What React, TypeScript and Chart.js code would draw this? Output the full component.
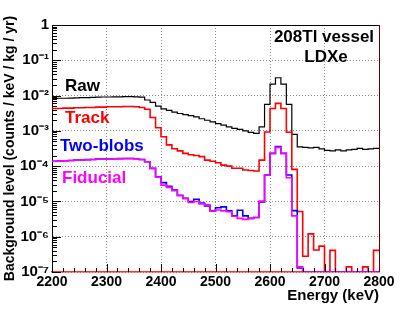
import { useEffect, useRef } from "react";
import { Chart, registerables } from "chart.js";

Chart.register(...registerables);

// ---------- data ----------
const BIN_WIDTH = 10; // keV
const ENERGY_BINS = [
  2200, 2210, 2220, 2230, 2240, 2250, 2260, 2270, 2280, 2290,
  2300, 2310, 2320, 2330, 2340, 2350, 2360, 2370, 2380, 2390,
  2400, 2410, 2420, 2430, 2440, 2450, 2460, 2470, 2480, 2490,
  2500, 2510, 2520, 2530, 2540, 2550, 2560, 2570, 2580, 2590,
  2600, 2610, 2620, 2630, 2640, 2650, 2660, 2670, 2680, 2690,
  2700, 2710, 2720, 2730, 2740, 2750, 2760, 2770, 2780, 2790,
];

const RAW = [
  0.0083, 0.0084, 0.0084, 0.0085, 0.0086, 0.0087, 0.0088, 0.0089, 0.009, 0.0091,
  0.0091, 0.0092, 0.0092, 0.0093, 0.0093, 0.0092, 0.009, 0.0075, 0.0064, 0.005,
  0.0042, 0.0038, 0.0034, 0.0031, 0.0029, 0.0027, 0.0025, 0.0022, 0.002, 0.0018,
  0.0016, 0.00146, 0.0013, 0.00117, 0.0011, 0.001, 0.00091, 0.00085, 0.0013, 0.0056,
  0.021, 0.032, 0.021, 0.0056, 0.00079, 0.00035, 0.00034, 0.00033, 0.00034, 0.00031,
  0.00028, 0.00027, 0.00029, 0.00027, 0.00029, 0.0003, 0.00032, 0.0003, 0.00031, 0.00032,
];

const TRACK = [
  0.0043, 0.0043, 0.0044, 0.0044, 0.0045, 0.0045, 0.0046, 0.0046, 0.0047, 0.0047,
  0.0048, 0.0048, 0.0048, 0.0049, 0.0049, 0.0048, 0.0046, 0.0041, 0.0024, 0.00123,
  0.00068, 0.0004, 0.00031, 0.00027, 0.00023, 0.00021, 0.0002, 0.000186, 0.000148, 0.000138,
  0.000125, 0.000107, 0.0001, 0.000087, 0.000087, 0.000078, 0.000075, 0.000073, 0.000148, 0.00093,
  0.0043, 0.006, 0.0043, 0.00091, 0.000081, 0.0000052, 2.8e-7, 1.2e-6, 4.2e-7, 5.4e-7,
  1e-7, 4.1e-7, 1e-7, 1e-7, 1.4e-7, 1e-7, 1e-7, 1.4e-7, 1e-7, 4.1e-7,
];

const TWO_BLOBS = [
  1.38e-4, 1.4e-4, 1.42e-4, 1.45e-4, 1.48e-4, 1.5e-4, 1.53e-4, 1.55e-4, 1.58e-4, 1.6e-4,
  1.6e-4, 1.62e-4, 1.63e-4, 1.64e-4, 1.64e-4, 1.62e-4, 1.55e-4, 1.33e-4, 8.7e-5, 5.0e-5,
  3.4e-5, 2.7e-5, 2.1e-5, 1.5e-5, 1.23e-5, 1.0e-5, 1.15e-5, 9.0e-6, 7.4e-6, 5.4e-6,
  6.6e-6, 7.0e-6, 5.4e-6, 3.9e-6, 5.6e-6, 3.9e-6, 3.3e-6, 3.5e-6, 9.7e-6, 5.6e-5,
  2.3e-4, 3.6e-4, 2.3e-4, 5.6e-5, 5.5e-6, 1.3e-7, 1e-7, 1e-7, 1e-7, 1e-7,
  1e-7, 1e-7, 1e-7, 1e-7, 1e-7, 1e-7, 1e-7, 1e-7, 1e-7, 1e-7,
];

const FIDUCIAL = [
  1.37e-4, 1.39e-4, 1.41e-4, 1.44e-4, 1.47e-4, 1.49e-4, 1.52e-4, 1.54e-4, 1.57e-4, 1.59e-4,
  1.59e-4, 1.61e-4, 1.62e-4, 1.63e-4, 1.63e-4, 1.61e-4, 1.54e-4, 1.33e-4, 8.5e-5, 4.9e-5,
  2.9e-5, 2.5e-5, 2.0e-5, 1.45e-5, 1.2e-5, 9.3e-6, 1.0e-5, 8.5e-6, 8.0e-6, 5.3e-6,
  5.7e-6, 5.4e-6, 5.1e-6, 3.8e-6, 3.3e-6, 3.1e-6, 3.3e-6, 3.5e-6, 1.02e-5, 5.6e-5,
  2.3e-4, 3.4e-4, 2.3e-4, 4.7e-5, 3.9e-6, 1.4e-7, 1e-7, 1e-7, 1e-7, 1e-7,
  1e-7, 1e-7, 1e-7, 1e-7, 1e-7, 1e-7, 1e-7, 1e-7, 1e-7, 1e-7,
];

const SERIES_NAMES = ["Raw", "Track", "Two-blobs", "Fiducial"];
const SERIES_COLORS = ["#000000", "#ff0000", "#0000ff", "#ff00ff"];

const X_TICKS = [2200, 2300, 2400, 2500, 2600, 2700, 2800];
const X_TICK_LABELS = ["2200", "2300", "2400", "2500", "2600", "2700", "2800"];
const Y_TICK_VALUES = [1e-7, 1e-6, 1e-5, 1e-4, 1e-3, 1e-2, 1e-1, 1];
const Y_TICK_LABELS = ["10⁻⁷", "10⁻⁶", "10⁻⁵", "10⁻⁴", "10⁻³", "10⁻²", "10⁻¹", "1"];

const TITLE_LINES = ["208Tl vessel", "LDXe"];
const X_TITLE = "Energy (keV)";
const Y_TITLE = "Background level (counts / keV / kg / yr)";

// ---------- helpers ----------
const FONT = '"Liberation Sans", Arial, Helvetica, sans-serif';

function toSteps(values: number[]) {
  const pts: { x: number; y: number }[] = [];
  ENERGY_BINS.forEach((lo, i) => {
    const hi = lo + BIN_WIDTH;
    pts.push({ x: lo, y: values[i] }, { x: hi, y: values[i] });
  });
  return pts;
}

const rootFrame = {
  id: "rootFrame",
  afterDatasetsDraw(chart: any) {
    const { ctx, chartArea: a, scales } = chart;
    const x = scales.x;
    const y = scales.y;
    ctx.save();
    ctx.strokeStyle = "#000";
    ctx.lineWidth = 1;
    ctx.beginPath();
    const xmin = X_TICKS[0];
    const xmax = X_TICKS[X_TICKS.length - 1];
    for (let v = xmin; v <= xmax; v += 20) {
      const px = Math.round(x.getPixelForValue(v)) + 0.5;
      const len = (v - xmin) % 100 === 0 ? 8 : 4;
      ctx.moveTo(px, a.bottom);
      ctx.lineTo(px, a.bottom - len);
    }
    for (let d = -7; d <= 0; d++) {
      for (let m = 1; m <= 9; m++) {
        const v = m * Math.pow(10, d);
        if (v > 1.0000001) break;
        const py = Math.round(y.getPixelForValue(v)) + 0.5;
        const len = m === 1 ? 9 : 5;
        ctx.moveTo(a.left, py);
        ctx.lineTo(a.left + len, py);
      }
    }
    ctx.stroke();
    ctx.beginPath();
    ctx.moveTo(a.left, Math.round(a.top) + 0.5);
    ctx.lineTo(a.right, Math.round(a.top) + 0.5);
    ctx.stroke();
    ctx.strokeStyle = "#6e0000";
    ctx.beginPath();
    ctx.moveTo(Math.round(a.right) + 0.5, a.top);
    ctx.lineTo(Math.round(a.right) + 0.5, a.bottom);
    ctx.stroke();
    ctx.restore();
  },
  afterDraw(chart: any) {
    const { ctx } = chart;
    ctx.save();
    ctx.font = `bold 17px ${FONT}`;
    ctx.textBaseline = "middle";
    ctx.textAlign = "left";
    const labelPos = [
      [65, 86],
      [65, 118.5],
      [60, 146.5],
      [62, 178],
    ];
    SERIES_NAMES.forEach((n, i) => {
      ctx.fillStyle = SERIES_COLORS[i];
      ctx.fillText(n, labelPos[i][0], labelPos[i][1]);
    });
    ctx.fillStyle = "#000";
    ctx.textAlign = "center";
    ctx.fillText(TITLE_LINES[0], 324, 37);
    ctx.fillText(TITLE_LINES[1], 326, 57.5);
    ctx.restore();
  },
};

export default function App() {
  const ref = useRef<HTMLCanvasElement | null>(null);

  useEffect(() => {
    document.body.style.margin = "0";
    const canvas = ref.current;
    if (!canvas) return;
    const series = [RAW, TRACK, TWO_BLOBS, FIDUCIAL];
    const orders = [3, 2, 1, 0];
    const widths = [1.2, 1.6, 1.6, 1.6];
    const chart = new Chart(canvas, {
      type: "line",
      data: {
        datasets: series.map((s, i) => ({
          label: SERIES_NAMES[i],
          data: toSteps(s),
          borderColor: SERIES_COLORS[i],
          backgroundColor: SERIES_COLORS[i],
          borderWidth: widths[i],
          pointRadius: 0,
          fill: false,
          tension: 0,
          order: orders[i],
        })),
      },
      options: {
        animation: false,
        responsive: false,
        devicePixelRatio: 1,
        layout: { padding: { top: 25, right: 30, left: 0, bottom: 0 } },
        plugins: {
          legend: { display: false },
          tooltip: { enabled: false },
        },
        scales: {
          x: {
            type: "linear",
            min: 2200,
            max: 2800,
            afterBuildTicks: (s: any) => {
              s.ticks = X_TICKS.map((v) => ({ value: v }));
            },
            afterFit: (s: any) => {
              s.height = 40;
            },
            ticks: {
              font: { family: FONT, size: 14, weight: "bold" },
              color: "#000",
              padding: 2,
              maxRotation: 0,
              autoSkip: false,
              callback: (v: any) => {
                const idx = X_TICKS.indexOf(Number(v));
                return idx >= 0 ? X_TICK_LABELS[idx] : "";
              },
            },
            grid: { color: "#8a8a8a", lineWidth: 1, drawTicks: false },
            border: { color: "#ff3030", width: 1.5, dash: [1, 2] },
            title: {
              display: true,
              text: X_TITLE,
              align: "end",
              color: "#000",
              font: { family: FONT, size: 15, weight: "bold" },
              padding: { top: 0, bottom: 7 },
            },
          },
          y: {
            type: "logarithmic",
            min: 1e-7,
            max: 1,
            afterBuildTicks: (s: any) => {
              s.ticks = Y_TICK_VALUES.map((v) => ({ value: v }));
            },
            afterFit: (s: any) => {
              s.width = 52;
            },
            ticks: {
              font: { family: FONT, size: 15, weight: "bold" },
              color: "#000",
              padding: 3,
              autoSkip: false,
              callback: (v: any) => {
                const idx = Y_TICK_VALUES.findIndex(
                  (t) => Math.abs(Math.log10(t) - Math.log10(Number(v))) < 1e-6
                );
                return idx >= 0 ? Y_TICK_LABELS[idx] : "";
              },
            },
            grid: { color: "#8a8a8a", lineWidth: 1, drawTicks: false },
            border: { color: "#000", width: 1, dash: [1, 2] },
            title: {
              display: true,
              text: Y_TITLE,
              color: "#000",
              font: { family: FONT, size: 14, weight: "bold" },
              padding: { top: 2, bottom: 0 },
            },
          },
        },
      },
      plugins: [rootFrame],
    });
    return () => chart.destroy();
  }, []);

  return (
    <div style={{ width: 409, height: 312, background: "#fff" }}>
      <canvas ref={ref} width={409} height={312} style={{ display: "block" }} />
    </div>
  );
}
